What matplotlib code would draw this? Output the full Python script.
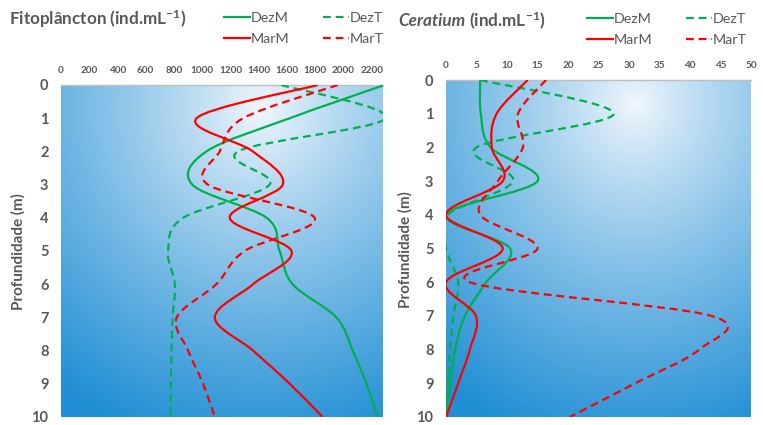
import numpy as np
import matplotlib
matplotlib.use("Agg")
import matplotlib.pyplot as plt
from matplotlib.path import Path
from matplotlib.patches import PathPatch
from matplotlib.lines import Line2D
from matplotlib.colors import to_rgb

# ---------------- data ----------------
depth = [0, 1, 2, 3, 4, 5, 6, 7, 8, 9, 10]

fito_DezM = [2290, 1620, 1030, 930, 1456, 1548, 1640, 1950, 2066, 2163, 2243]
fito_DezT = [1560, 2300, 1254, 1477, 865, 758, 806, 790, 783, 778, 776]
fito_MarM = [1818, 960, 1358, 1570, 1195, 1632, 1360, 1089, 1360, 1620, 1852]
fito_MarT = [1960, 1290, 1124, 1040, 1796, 1300, 1100, 820, 900, 1006, 1089]

cer_DezM = [5.6, 5.7, 7.3, 15.0, 0.0, 10.5, 6.6, 3.1, 1.5, 0.65, 0.0]
cer_DezT = [5.6, 27.5, 5.0, 11.0, 0.3, 0.0, 2.0, 1.2, 0.65, 0.3, 0.0]
cer_MarM = [13.4, 8.3, 7.5, 9.3, 0.0, 9.3, 0.0, 4.9, 3.9, 2.0, 0.0]
cer_MarT = [16.4, 11.8, 12.6, 8.5, 5.6, 15.0, 3.9, 43.5, 41.5, 31.0, 20.3]

series_names = ["DezM", "DezT", "MarM", "MarT"]
fito_x_ticks = list(range(0, 2201, 200))
cer_x_ticks = list(range(0, 51, 5))
y_ticks = list(range(0, 11))

# ---------------- styling ----------------
GREEN = "#00b050"
RED = "#ff0000"
TXT = "#595959"
FONT = ["Lato", "DejaVu Sans"]
plt.rcParams["font.family"] = FONT
plt.rcParams["mathtext.fontset"] = "custom"
plt.rcParams["mathtext.rm"] = "Lato"
plt.rcParams["mathtext.bf"] = "Lato:bold"
plt.rcParams["mathtext.it"] = "Lato:italic"

styles = {
    "DezM": dict(color=GREEN, ls="-"),
    "DezT": dict(color=GREEN, ls=(0, (3.5, 2.2))),
    "MarM": dict(color=RED, ls="-"),
    "MarT": dict(color=RED, ls=(0, (3.5, 2.2))),
}
LW = 1.6


def smooth_path(xs, ys):
    P = np.column_stack([xs, ys]).astype(float)
    n = len(P)
    verts = [P[0]]
    codes = [Path.MOVETO]
    for i in range(n - 1):
        p0 = P[i - 1] if i > 0 else P[i]
        p3 = P[i + 2] if i + 2 < n else P[i + 1]
        c1 = P[i] + (P[i + 1] - p0) / 6.0
        c2 = P[i + 1] - (p3 - P[i]) / 6.0
        verts += [c1, c2, P[i + 1]]
        codes += [Path.CURVE4] * 3
    return Path(verts, codes)


def gradient_bg(ax):
    h, w = 300, 300
    yy, xx = np.mgrid[0:1:h * 1j, 0:1:w * 1j]
    cx, cy = 0.62, 0.07
    d = np.sqrt((xx - cx) ** 2 + (yy - cy) ** 2)
    t = np.clip(d / 1.05, 0, 1) ** 0.85
    light = np.array(to_rgb("#f3f8fd"))
    dark = np.array(to_rgb("#1f8ed4"))
    img = light[None, None, :] * (1 - t[..., None]) + dark[None, None, :] * t[..., None]
    ax.imshow(img, extent=(0, 1, 0, 1), transform=ax.transAxes, origin="upper",
              aspect="auto", zorder=0, interpolation="bilinear")


def setup_axes(ax, xmax, xticks):
    ax.set_xlim(0, xmax)
    ax.set_ylim(10, 0)
    ax.xaxis.tick_top()
    ax.set_xticks(xticks)
    ax.set_yticks(y_ticks)
    ax.tick_params(axis="x", length=0, pad=7, labelsize=7.2, labelcolor=TXT)
    ax.tick_params(axis="y", length=0, pad=9, labelsize=10.5, labelcolor=TXT)
    for lab in ax.get_xticklabels():
        lab.set_fontweight("bold")
    for lab in ax.get_yticklabels():
        lab.set_fontweight("bold")
    for s in ["bottom", "left", "right"]:
        ax.spines[s].set_visible(False)
    ax.spines["top"].set_color("#bfbfbf")
    ax.spines["top"].set_linewidth(1.0)
    gradient_bg(ax)


def draw_series(ax, data):
    for name, xs in zip(series_names, data):
        st = styles[name]
        patch = PathPatch(smooth_path(xs, depth), fill=False, edgecolor=st["color"],
                          linestyle=st["ls"], lw=LW, transform=ax.transData, zorder=3,
                          capstyle="butt")
        ax.add_patch(patch)


def add_legend(ax, x0, y0):
    handles = {n: Line2D([], [], color=styles[n]["color"], ls=styles[n]["ls"], lw=LW)
               for n in series_names}
    order = ["DezM", "MarM", "DezT", "MarT"]
    leg = ax.legend([handles[n] for n in order], order, ncol=2, loc="upper left",
                    bbox_to_anchor=(x0, y0), bbox_transform=fig.transFigure,
                    frameon=False, fontsize=10.3, handlelength=1.8,
                    handletextpad=0.05, columnspacing=2.4, labelspacing=0.6,
                    borderaxespad=0, borderpad=0)
    for t in leg.get_texts():
        t.set_color(TXT)


W, H = 763, 425
fig = plt.figure(figsize=(W / 100, H / 100), dpi=100)
fig.patch.set_facecolor("white")

BOT = 417
ax1 = fig.add_axes([61 / W, 1 - BOT / H, (383 - 61) / W, (BOT - 85) / H])
ax2 = fig.add_axes([446 / W, 1 - BOT / H, (751 - 446) / W, (BOT - 80) / H])

setup_axes(ax1, 2280, fito_x_ticks)
setup_axes(ax2, 50, cer_x_ticks)

draw_series(ax1, [fito_DezM, fito_DezT, fito_MarM, fito_MarT])
draw_series(ax2, [cer_DezM, cer_DezT, cer_MarM, cer_MarT])

add_legend(ax1, 224 / W, 1 - 12 / H)
add_legend(ax2, 587 / W, 1 - 13 / H)

# titles
fig.text(9 / W, 1 - 19 / H, r"Fitoplâncton (ind.mL$^{\mathbf{-1}}$)", fontsize=12.3,
         fontweight="bold", color=TXT, va="center", ha="left")
t1 = fig.text(398 / W, 1 - 21 / H, "Ceratium", fontsize=12.3, fontweight="bold",
              fontstyle="italic", color=TXT, va="center", ha="left")
fig.canvas.draw()
ax2.annotate(r" (ind.mL$^{\mathbf{-1}}$)", xy=(1, 0.5), xycoords=t1, va="center",
             ha="left", fontsize=12.3, fontweight="bold", color=TXT,
             annotation_clip=False)

# y labels
fig.text(18 / W, 1 - 252 / H, "Profundidade (m)", rotation=90, fontsize=11,
         fontweight="bold", color=TXT, va="center", ha="center")
fig.text(405 / W, 1 - 250 / H, "Profundidade (m)", rotation=90, fontsize=11,
         fontweight="bold", color=TXT, va="center", ha="center")

fig.savefig("out.png", dpi=100, facecolor="white")
